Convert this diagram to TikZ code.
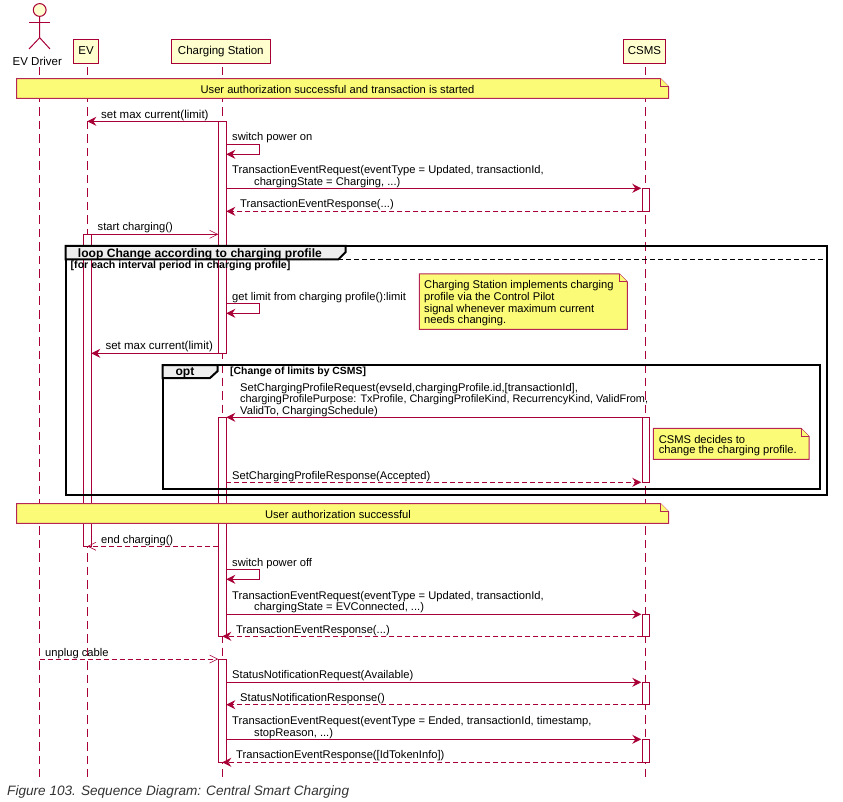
\documentclass[tikz,border=0pt]{standalone}
\usepackage{fontspec}
\setmainfont{Liberation Sans}
\usetikzlibrary{arrows.meta,calc}
\definecolor{seqred}{HTML}{A80036}
\definecolor{headfill}{HTML}{FEFECE}
\definecolor{notefill}{HTML}{FBFB77}
\definecolor{tabfill}{HTML}{EEEEEE}
\tikzset{
  seqline/.style={draw=seqred,line width=1pt},
  life/.style={seqline,dash pattern=on 8.5pt off 5pt},
  msg/.style={seqline,-{Stealth[inset=3pt,length=9pt,width=9pt]}},
  ret/.style={msg,dash pattern=on 5pt off 3pt},
  opn/.style={seqline,-{Straight Barb[length=8pt,width=8pt,line width=.6pt]}},
  opnret/.style={opn,dash pattern=on 5pt off 3pt},
  head/.style={seqline,fill=headfill,inner sep=0pt,minimum height=24pt,text height=8pt,text depth=2pt,font=\fontsize{11.5}{13}\selectfont},
  actbar/.style={seqline,fill=white,inner sep=0pt,outer sep=0pt,minimum width=8pt},
  lbl/.style={anchor=west,inner sep=0pt,yshift=-1pt,font=\fontsize{11.17}{13}\selectfont},
  boldlbl/.style={lbl,font=\fontsize{10.6}{12}\selectfont\bfseries},
  tablbl/.style={lbl,font=\fontsize{12.1}{14}\selectfont\bfseries},
  notebox/.style={draw=seqred!85,line width=1pt,fill=notefill},
  framebox/.style={draw=black,line width=2pt},
  tabbox/.style={framebox,fill=tabfill}
}
\begin{document}
\begin{tikzpicture}[x=1pt,y=-1pt]
\useasboundingbox(0,0)rectangle(843,802);
%lifelines
\coordinate(drvtop)at(39.5,67);
\coordinate(drvend)at(39.5,777);
\coordinate(evtop)at(87.3,67);
\coordinate(evend)at(87.3,777);
\coordinate(cstop)at(222.3,67);
\coordinate(csend)at(222.3,777);
\coordinate(csmstop)at(645.5,67);
\coordinate(csmsend)at(645.5,777);
\draw[life](drvtop)--(drvend);
\draw[life](evtop)--(evend);
\draw[life](cstop)--(csend);
\draw[life](csmstop)--(csmsend);
%actor
\draw[seqline,fill=headfill](39.7,10)circle(6.4);
\draw[seqline](39.7,16.4)--(39.7,37.7)--(29,49);
\draw[seqline](39.7,37.7)--(50,49);
\draw[seqline](29,22.3)--(50,22.3);
\node[lbl,anchor=center,font=\fontsize{11.5}{13}\selectfont](drvlbl)at(37.3,60){EV Driver};
%heads
\node[head,minimum width=25.4pt](ev)at(86,51.3){EV};
\node[head,minimum width=99pt](cs)at(220.8,51.3){Charging Station};
\node[head,minimum width=42.4pt](csms)at(644.5,51.3){CSMS};
%activation bars
\node[actbar,minimum height=232pt](csbarA)at(222.3,237.3){};
\node[actbar,minimum height=219pt](csbarB)at(222.3,526.8){};
\node[actbar,minimum height=103.3pt](csbarC)at(222.3,710.7){};
\node[actbar,minimum height=312pt](evbar)at(87.3,390.3){};
\node[actbar,minimum width=7.4pt,minimum height=23pt](csmsbarA)at(646,199.8){};
\node[actbar,minimum width=7.4pt,minimum height=65pt](csmsbarB)at(646,449.8){};
\node[actbar,minimum width=7.4pt,minimum height=22pt](csmsbarC)at(646,625.3){};
\node[actbar,minimum width=7.4pt,minimum height=22.4pt](csmsbarD)at(646,693.5){};
\node[actbar,minimum width=7.4pt,minimum height=23pt](csmsbarE)at(646,750.8){};
%top note
\draw[notebox](16.7,78.7)--(660.7,78.7)--(668.7,86.7)--(668.7,98.3)--(16.7,98.3)--cycle;
\draw[notebox](660.7,78.7)--(660.7,86.7)--(668.7,86.7);
\node[lbl,anchor=center](noteA)at(337.5,88.5){User authorization successful and transaction is started};
%messages before the loop
\node[lbl,font=\fontsize{11.5}{13}\selectfont](setmaxA)at(101,115){set max current(limit)};
\draw[msg](csbarA.north west)--(evtop|-csbarA.north west);
\node[lbl](poweron)at(232,137){switch power on};
\coordinate(poweronA)at(259.3,144.3);
\coordinate(poweronB)at(259.3,154.3);
\draw[msg](csbarA.east|-poweronA)--(poweronA)--(poweronB)--(csbarA.east|-poweronB);
\node[lbl](reqA)at(232,170){TransactionEventRequest(eventType = Updated, transactionId,};
\node[lbl](reqAb)at(254,182){chargingState = Charging, ...)};
\draw[msg,shorten >=1pt](csbarA.east|-csmsbarA.north)--(csmsbarA.north west);
\node[lbl](respA)at(240,204){TransactionEventResponse(...)};
\draw[ret](csmsbarA.south west)--(csbarA.east|-csmsbarA.south);
\node[lbl](startch)at(97.5,227){start charging()};
\draw[opn](evbar.north east)--(csbarA.west|-evbar.north);
%note in the loop
\draw[notebox](419.3,274)--(619.3,274)--(627.3,282)--(627.3,329.3)--(419.3,329.3)--cycle;
\draw[notebox](619.3,274)--(619.3,282)--(627.3,282);
\node[lbl](noteBa)at(424,284.7){Charging Station implements charging};
\node[lbl](noteBb)at(424,296.7){profile via the Control Pilot};
\node[lbl](noteBc)at(424,308.7){signal whenever maximum current};
\node[lbl](noteBd)at(424,320){needs changing.};
%loop frame
\draw[framebox](65.7,246)rectangle(827.3,495);
\draw[tabbox](65.7,246)--(345.7,246)--(345.7,252)--(338.3,259.5)--(65.7,259.5)--cycle;
\draw[black,line width=1pt,dash pattern=on 5pt off 3pt](338.3,260)--(827.3,260);
\node[tablbl](looplbl)at(77.7,253){loop Change according to charging profile};
\node[boldlbl](loopguard)at(70.5,265){[for each interval period in charging profile]};
\node[lbl](getlimit)at(232,296.7){get limit from charging profile():limit};
\coordinate(getlimitA)at(259.3,303.3);
\coordinate(getlimitB)at(259.3,313.3);
\draw[msg](csbarA.east|-getlimitA)--(getlimitA)--(getlimitB)--(csbarA.east|-getlimitB);
\node[lbl,font=\fontsize{11.5}{13}\selectfont](setmaxB)at(105.3,345.7){set max current(limit)};
\draw[msg](csbarA.south west)--(evbar.east|-csbarA.south);
%opt frame
\draw[framebox](162.7,365)rectangle(820,488.7);
\draw[tabbox](162.7,365)--(217.7,365)--(217.7,371)--(210,378)--(162.7,378)--cycle;
\node[tablbl,anchor=center](optlbl)at(185,371.7){opt};
\node[boldlbl,font=\fontsize{10.4}{12}\selectfont\bfseries](optguard)at(230,370.7){[Change of limits by CSMS]};
\node[lbl](setreqa)at(240,387.7){SetChargingProfileRequest(evseId,chargingProfile.id,[transactionId],};
\node[lbl,font=\fontsize{10.9}{13}\selectfont](setreqb)at(240,399){chargingProfilePurpose: TxProfile, ChargingProfileKind, RecurrencyKind, ValidFrom,};
\node[lbl](setreqc)at(240,410.7){ValidTo, ChargingSchedule)};
\draw[msg](csmsbarB.north west)--(csbarB.north east);
\draw[notebox](653.3,428.3)--(801,428.3)--(809,436.3)--(809,459.3)--(653.3,459.3)--cycle;
\draw[notebox](801,428.3)--(801,436.3)--(809,436.3);
\node[lbl](noteCa)at(658.7,438.7){CSMS decides to};
\node[lbl](noteCb)at(658.7,449.7){change the charging profile.};
\node[lbl](setresp)at(232,475.7){SetChargingProfileResponse(Accepted)};
\draw[ret,shorten >=1pt](csbarB.east|-csmsbarB.south)--(csmsbarB.south west);
%second note
\draw[notebox](16.7,503.7)--(660.7,503.7)--(668.7,511.7)--(668.7,523.3)--(16.7,523.3)--cycle;
\draw[notebox](660.7,503.7)--(660.7,511.7)--(668.7,511.7);
\node[lbl,anchor=center](noteD)at(338,513.7){User authorization successful};
%messages after the loop
\node[lbl](endch)at(101,539.7){end charging()};
\draw[opnret](csbarB.west|-evbar.south)--(evtop|-evbar.south);
\node[lbl](poweroff)at(232,562.7){switch power off};
\coordinate(poweroffA)at(259.3,569.3);
\coordinate(poweroffB)at(259.3,579.3);
\draw[msg](csbarB.east|-poweroffA)--(poweroffA)--(poweroffB)--(csbarB.east|-poweroffB);
\node[lbl](reqB)at(232,595.7){TransactionEventRequest(eventType = Updated, transactionId,};
\node[lbl](reqBb)at(254,607){chargingState = EVConnected, ...)};
\draw[msg,shorten >=1pt](csbarB.east|-csmsbarC.north)--(csmsbarC.north west);
\node[lbl](respB)at(236,629.7){TransactionEventResponse(...)};
\draw[ret](csmsbarC.south west)--(cstop|-csmsbarC.south);
\node[lbl](unplug)at(45,652.7){unplug cable};
\draw[opnret](drvtop|-csbarC.north)--(csbarC.north west);
\node[lbl](statreq)at(232,674.7){StatusNotificationRequest(Available)};
\draw[msg,shorten >=1pt](csbarC.east|-csmsbarD.north)--(csmsbarD.north west);
\node[lbl](statresp)at(240,697.7){StatusNotificationResponse()};
\draw[ret](csmsbarD.south west)--(csbarC.east|-csmsbarD.south);
\node[lbl](reqC)at(232,720.7){TransactionEventRequest(eventType = Ended, transactionId, timestamp,};
\node[lbl](reqCb)at(254,733){stopReason, ...)};
\draw[msg,shorten >=1pt](csbarC.east|-csmsbarE.north)--(csmsbarE.north west);
\node[lbl](respC)at(236,754.7){TransactionEventResponse([IdTokenInfo])};
\draw[ret](csmsbarE.south west)--(cstop|-csmsbarE.south);
%caption
\node[lbl,font=\fontsize{13.6}{16}\selectfont\itshape,text=black!80](caption)at(7,790.7){Figure 103. Sequence Diagram: Central Smart Charging};
\end{tikzpicture}
\end{document}
